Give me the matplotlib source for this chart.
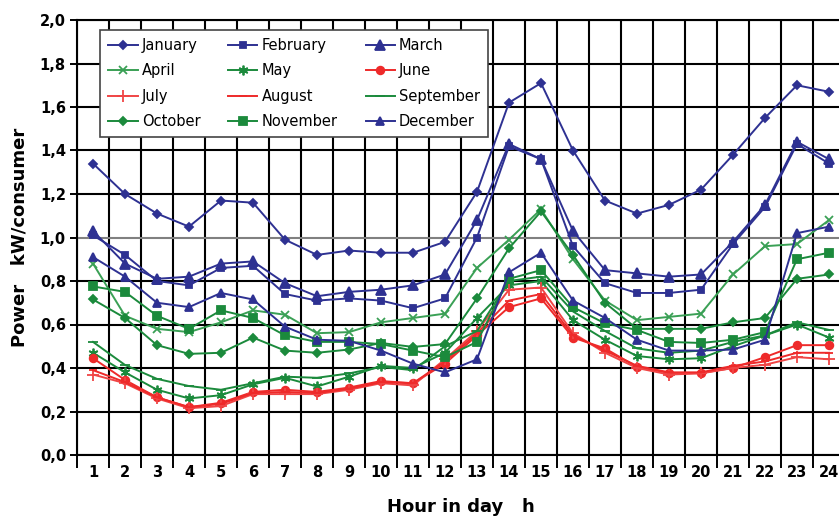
import numpy as np
from matplotlib import pyplot as plt

# Hourly load per consumer (kW/consumer)
hours = np.arange(1, 25)
month_names = ['January', 'February', 'March', 'April', 'May', 'June',
               'July', 'August', 'September', 'October', 'November', 'December']

january = [1.34, 1.20, 1.11, 1.05, 1.17, 1.16, 0.99, 0.92, 0.94, 0.93, 0.93, 0.98,
           1.21, 1.62, 1.71, 1.40, 1.17, 1.11, 1.15, 1.22, 1.38, 1.55, 1.70, 1.67]
february = [1.01, 0.92, 0.80, 0.78, 0.86, 0.87, 0.74, 0.71, 0.72, 0.71, 0.675, 0.72,
            1.00, 1.42, 1.36, 0.96, 0.79, 0.745, 0.745, 0.76, 0.97, 1.14, 1.43, 1.34]
march = [1.03, 0.88, 0.81, 0.82, 0.88, 0.89, 0.79, 0.73, 0.75, 0.76, 0.78, 0.83,
         1.08, 1.43, 1.36, 1.03, 0.85, 0.835, 0.82, 0.83, 0.98, 1.15, 1.44, 1.36]
april = [0.88, 0.64, 0.58, 0.565, 0.61, 0.665, 0.645, 0.56, 0.565, 0.61, 0.63, 0.65,
         0.86, 0.99, 1.13, 0.90, 0.71, 0.62, 0.635, 0.65, 0.83, 0.96, 0.97, 1.08]
may = [0.47, 0.38, 0.30, 0.26, 0.275, 0.325, 0.355, 0.315, 0.36, 0.41, 0.40, 0.47,
       0.63, 0.78, 0.80, 0.62, 0.53, 0.455, 0.44, 0.445, 0.50, 0.55, 0.60, 0.54]
june = [0.445, 0.345, 0.265, 0.22, 0.24, 0.29, 0.30, 0.29, 0.31, 0.34, 0.33, 0.42,
        0.55, 0.68, 0.72, 0.54, 0.49, 0.405, 0.377, 0.377, 0.40, 0.45, 0.505, 0.505]
july = [0.37, 0.33, 0.26, 0.215, 0.225, 0.28, 0.28, 0.28, 0.30, 0.33, 0.32, 0.44,
        0.57, 0.76, 0.77, 0.56, 0.47, 0.40, 0.37, 0.375, 0.40, 0.415, 0.45, 0.44]
august = [0.39, 0.335, 0.265, 0.22, 0.235, 0.285, 0.29, 0.285, 0.305, 0.335, 0.33, 0.43,
          0.56, 0.71, 0.74, 0.55, 0.48, 0.41, 0.38, 0.38, 0.41, 0.43, 0.47, 0.47]
september = [0.52, 0.414, 0.35, 0.317, 0.30, 0.33, 0.36, 0.355, 0.375, 0.405, 0.39, 0.50,
             0.57, 0.80, 0.82, 0.66, 0.57, 0.49, 0.47, 0.48, 0.52, 0.55, 0.61, 0.575]
october = [0.715, 0.63, 0.505, 0.465, 0.47, 0.54, 0.48, 0.47, 0.485, 0.515, 0.497, 0.51,
           0.72, 0.95, 1.12, 0.92, 0.70, 0.58, 0.58, 0.58, 0.61, 0.63, 0.81, 0.83]
november = [0.775, 0.75, 0.64, 0.58, 0.665, 0.63, 0.55, 0.52, 0.52, 0.51, 0.48, 0.45,
            0.52, 0.81, 0.85, 0.68, 0.605, 0.575, 0.52, 0.515, 0.53, 0.565, 0.90, 0.93]
december = [0.91, 0.82, 0.70, 0.68, 0.745, 0.715, 0.59, 0.53, 0.525, 0.48, 0.42, 0.38,
            0.44, 0.84, 0.93, 0.71, 0.63, 0.53, 0.48, 0.48, 0.485, 0.53, 1.02, 1.05]

series = [january, february, march, april, may, june,
          july, august, september, october, november, december]

navy = '#2e3192'
green = '#1b8a3c'
red = '#ee2a2a'
# colour, marker, marker size for each month
styles = [(navy, 'D', 4.5), (navy, 's', 4.5), (navy, '^', 6.5),
          ('#3aa055', 'x', 5.5), (green, (6, 2, 0), 7), (red, 'o', 5.5),
          ('#f04545', '+', 8), (red, '_', 6), (green, '_', 7),
          (green, 'D', 4.5), (green, 's', 5.5), (navy, '^', 5.5)]

fig = plt.figure(figsize=(8.39, 5.17), dpi=100)
ax = fig.add_axes([77 / 839, 62 / 517, 768 / 839, 435 / 517])

handles = []
for name, vals, (col, mk, ms) in zip(month_names, series, styles):
    h, = ax.plot(hours, vals, color=col, marker=mk, markersize=ms, linewidth=1.4,
                 markeredgewidth=1.3, label=name, zorder=3)
    handles.append(h)

ax.set_xlim(0.5, 24.5)
ax.set_ylim(0, 2.0)

# grid: vertical lines between hours, horizontal lines every 0.2
ax.set_xticks(hours)
ax.set_xticks(np.arange(0.5, 25, 1), minor=True)
ax.set_xticklabels([str(h) for h in hours], fontweight='bold', fontsize=10.5,
                   family=['Liberation Sans Narrow', 'DejaVu Sans'])
ax.tick_params(axis='x', which='major', length=0, pad=7)
ax.tick_params(axis='x', which='minor', length=9, width=1.4, direction='out')
yt = np.arange(0, 2.01, 0.2)
ax.set_yticks(yt)
ax.set_yticklabels([f'{v:.1f}'.replace('.', ',') for v in yt], fontweight='bold',
                   fontsize=10.5, family=['Liberation Sans Narrow', 'DejaVu Sans'])
ax.tick_params(axis='y', length=5, width=1.4, direction='out', pad=3)

for x in np.arange(0.5, 25, 1):
    ax.axvline(x, color='black', linewidth=1.5, zorder=1)
for v in yt:
    c = '#808080' if abs(v - 1.0) < 1e-6 else 'black'
    ax.axhline(v, color=c, linewidth=1.5, zorder=1)
for s in ax.spines.values():
    s.set_linewidth(1.5)

ax.set_ylabel('Power   kW/consumer', fontweight='bold', fontsize=13,
              family=['Liberation Sans Narrow', 'DejaVu Sans'], labelpad=8)
ax.set_xlabel('Hour in day   h', fontweight='bold', fontsize=13,
              family=['Liberation Sans Narrow', 'DejaVu Sans'], labelpad=13)

# legend filled row by row, as in the original
order = [0, 3, 6, 9, 1, 4, 7, 10, 2, 5, 8, 11]
leg = ax.legend([handles[i] for i in order], [month_names[i] for i in order],
                ncol=3, loc='upper left', bbox_to_anchor=(0.021, 0.994),
                fontsize=10.5, frameon=True, fancybox=False, framealpha=1,
                edgecolor='#444444', handlelength=2.0, handletextpad=0.3,
                columnspacing=1.9, labelspacing=0.72, borderpad=0.55)
leg.get_frame().set_linewidth(1.2)
leg.set_zorder(5)

plt.savefig('out.png', dpi=100)
